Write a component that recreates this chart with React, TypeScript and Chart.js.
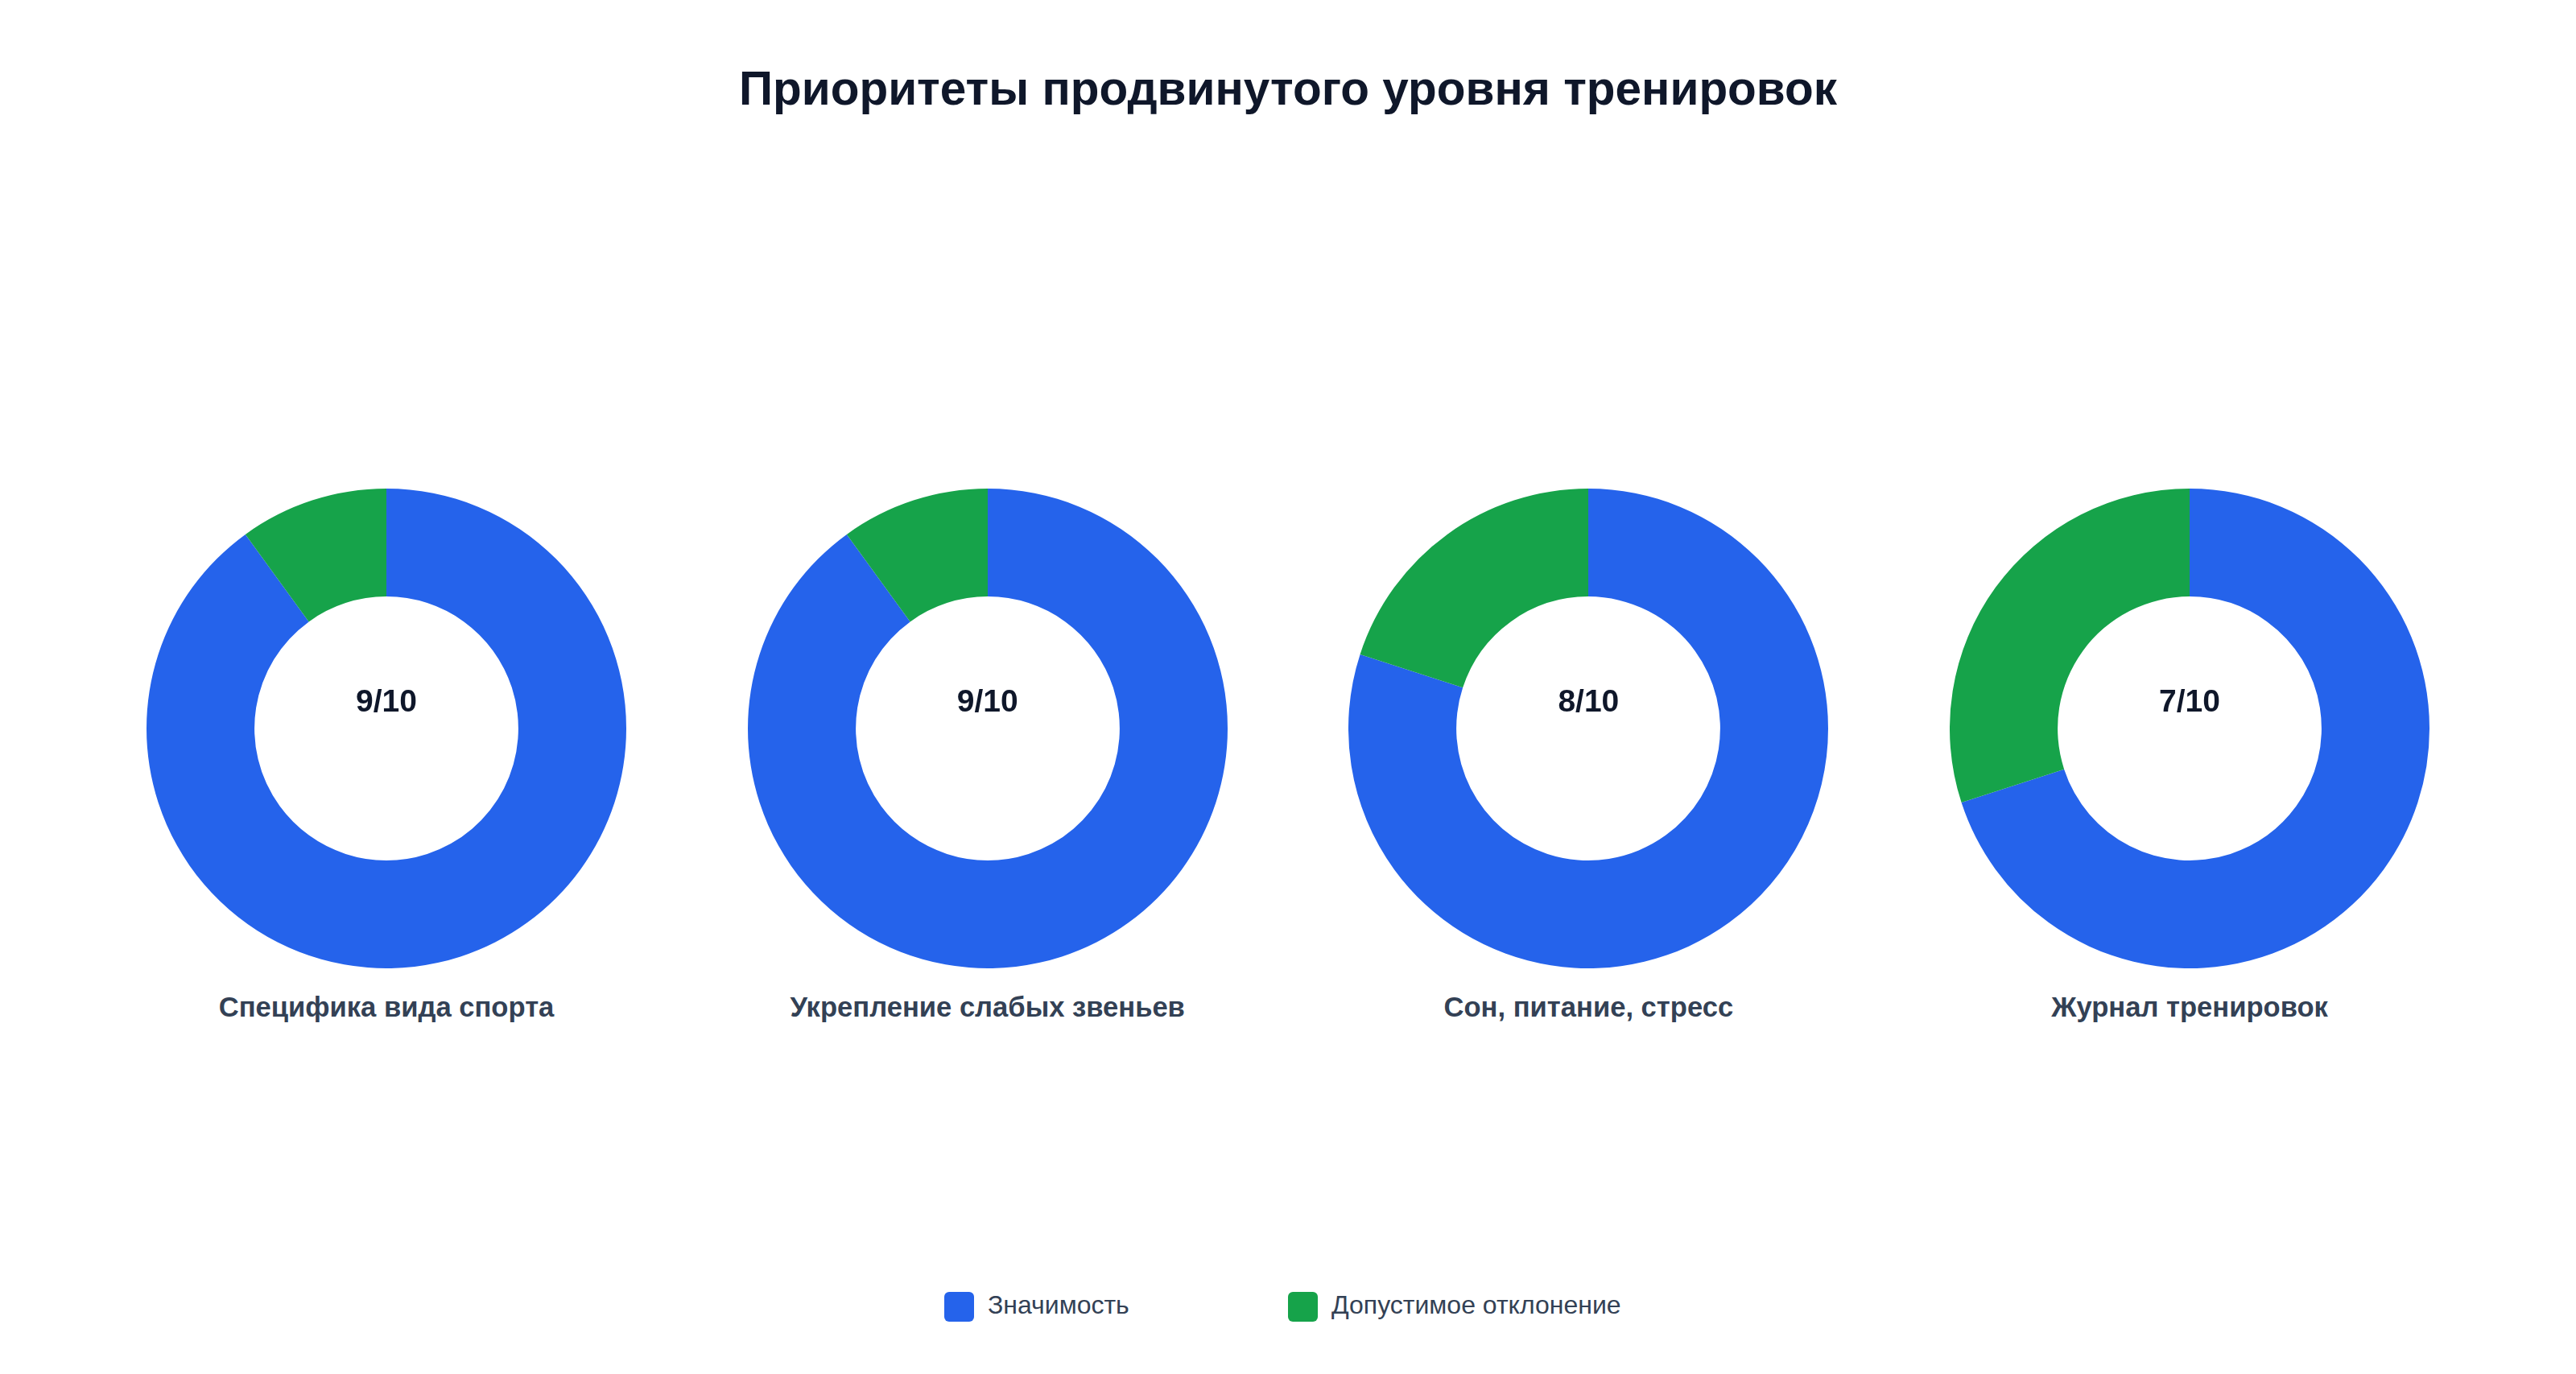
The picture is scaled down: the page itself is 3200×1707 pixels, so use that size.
import React, { useEffect, useRef } from "react";
import { Chart, registerables } from "chart.js";

Chart.register(...registerables);

const TITLE = "Приоритеты продвинутого уровня тренировок";
const categories = [
  "Специфика вида спорта",
  "Укрепление слабых звеньев",
  "Сон, питание, стресс",
  "Журнал тренировок",
];
const scores = [9, 9, 8, 7];
const maxScore = 10;
const seriesNames = ["Значимость", "Допустимое отклонение"];
const seriesColors = ["#2563eb", "#16a34a"];

const FONT = '"Liberation Sans", Arial, Helvetica, sans-serif';
const SIZE = 596;
const CENTERS_X = [480, 1226.67, 1973.33, 2720];
const CENTER_Y = 905;

function Donut({ score, cx }: { score: number; cx: number }) {
  const ref = useRef<HTMLCanvasElement | null>(null);
  useEffect(() => {
    if (!ref.current) return;
    const chart = new Chart(ref.current, {
      type: "doughnut",
      data: {
        labels: seriesNames,
        datasets: [
          {
            data: [score, maxScore - score],
            backgroundColor: seriesColors,
            borderWidth: 0,
          },
        ],
      },
      options: {
        responsive: false,
        maintainAspectRatio: false,
        animation: false,
        cutout: "55%",
        layout: { padding: 0 },
        plugins: {
          legend: { display: false },
          tooltip: { enabled: false },
          title: { display: false },
        },
      },
    });
    return () => chart.destroy();
  }, [score]);
  return (
    <canvas
      ref={ref}
      width={SIZE}
      height={SIZE}
      style={{
        position: "absolute",
        left: cx - SIZE / 2,
        top: CENTER_Y - SIZE / 2,
        width: SIZE,
        height: SIZE,
      }}
    />
  );
}

export default function App() {
  return (
    <div
      style={{
        position: "fixed",
        left: 0,
        top: 0,
        width: 3200,
        height: 1707,
        background: "#ffffff",
        fontFamily: FONT,
        overflow: "hidden",
      }}
    >
      <div
        style={{
          position: "absolute",
          left: 0,
          width: 3200,
          top: 80.5,
          textAlign: "center",
          fontSize: 58.5,
          lineHeight: "58.5px",
          fontWeight: 700,
          color: "#0f172a",
        }}
      >
        {TITLE}
      </div>

      {categories.map((cat, i) => (
        <React.Fragment key={cat}>
          <Donut score={scores[i]} cx={CENTERS_X[i]} />
          <div
            style={{
              position: "absolute",
              left: CENTERS_X[i] - 200,
              width: 400,
              top: 851,
              textAlign: "center",
              fontSize: 39,
              lineHeight: "39px",
              fontWeight: 700,
              color: "#0f172a",
            }}
          >
            {`${scores[i]}/${maxScore}`}
          </div>
          <div
            style={{
              position: "absolute",
              left: CENTERS_X[i] - 370,
              width: 740,
              top: 1234,
              textAlign: "center",
              fontSize: 34.6,
              lineHeight: "34.6px",
              fontWeight: 700,
              color: "#334155",
              whiteSpace: "nowrap",
            }}
          >
            {cat}
          </div>
        </React.Fragment>
      ))}

      {seriesNames.map((name, i) => {
        const boxLeft = i === 0 ? 1173 : 1600;
        return (
          <React.Fragment key={name}>
            <div
              style={{
                position: "absolute",
                left: boxLeft,
                top: 1605,
                width: 37,
                height: 37,
                borderRadius: 6,
                background: seriesColors[i],
              }}
            />
            <div
              style={{
                position: "absolute",
                left: boxLeft + 54,
                top: 1605,
                fontSize: 32,
                lineHeight: "32px",
                color: "#334155",
                whiteSpace: "nowrap",
              }}
            >
              {name}
            </div>
          </React.Fragment>
        );
      })}
    </div>
  );
}
